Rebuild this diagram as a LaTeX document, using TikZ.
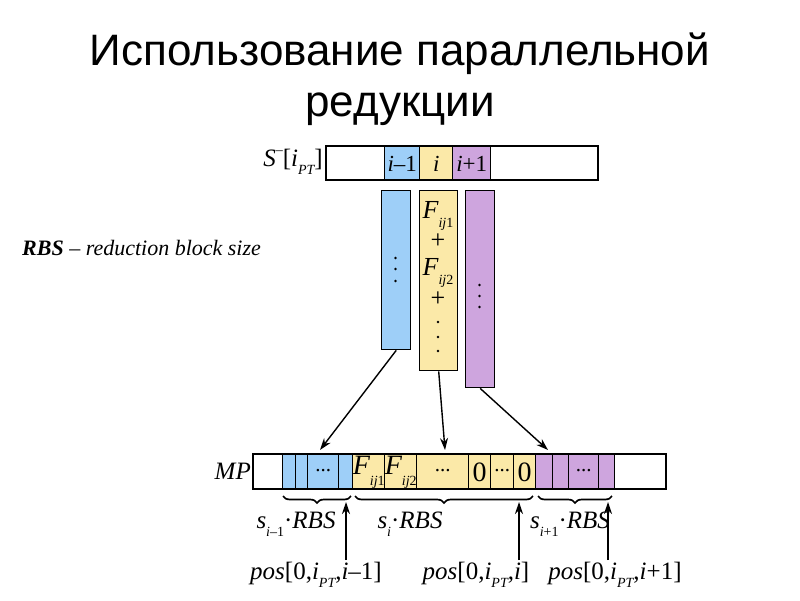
\documentclass[tikz,border=0pt]{standalone}
\usepackage{fontspec}
\setmainfont{Liberation Serif}
\newfontfamily\titlefont{Liberation Sans}
\usetikzlibrary{arrows.meta,decorations.pathreplacing}
\definecolor{cblue}{RGB}{158,207,248}
\definecolor{cyel}{RGB}{251,233,168}
\definecolor{cpur}{RGB}{206,165,222}
\newcommand\lsub[2]{\raisebox{-#1}{\fontsize{14}{14}\selectfont #2}}
\begin{document}
\begin{tikzpicture}[x=1pt,y=-1pt,
  cell/.style={draw, line width=1.4pt, inner sep=0pt, anchor=north west, font=\fontsize{23}{24}\selectfont\itshape},
  lbl/.style={inner sep=0pt, font=\fontsize{25}{26}\selectfont\itshape},
  arr/.style={line width=1.4pt, -{Stealth[length=12pt,width=8pt]}},
  brc/.style={line width=1.7pt, decorate, decoration={brace, mirror, amplitude=7pt}}
]
\useasboundingbox (0,0) rectangle (800,600);
% title
\node[font=\titlefont\fontsize{44}{51}\selectfont, align=center] (title) at (400,79) {Использование параллельной\\редукции};
% legend
\node[anchor=west, inner sep=0pt, font=\fontsize{22}{24}\selectfont\itshape] (legend) at (22,248) {\textbf{RBS} – reduction block size};
% top bar
\node[cell, minimum width=272, minimum height=34] (top) at (326,146) {};
\node[cell, fill=cblue, minimum width=35, minimum height=34] (tb) at (384,146) {i\upshape–1};
\node[cell, fill=cyel, minimum width=33, minimum height=34] (ty) at (419,146) {i};
\node[cell, fill=cpur, minimum width=38, minimum height=34] (tp) at (452,146) {i\upshape+1};
\draw[line width=1.4pt] (326,146) rectangle (598,180);
\node[lbl, anchor=east] (slbl) at (323,162) {S\raisebox{0.5em}{\fontsize{14}{14}\selectfont\upshape –}\upshape[\itshape i\lsub{0.3em}{PT}\upshape]};
% vertical bars
\node[cell, fill=cblue, minimum width=29, minimum height=159] (vb) at (381,190) {};
\node[cell, fill=cyel, minimum width=38, minimum height=180] (vy) at (419,190) {};
\node[cell, fill=cpur, minimum width=29, minimum height=197] (vp) at (465,190) {};
\foreach \y in {258,269,281} \fill (395.5,\y) circle (1.4pt);
\foreach \y in {285,296,307} \fill (479.5,\y) circle (1.4pt);
\foreach \y in {322,337,351} \fill (438,\y) circle (1.4pt);
\node[lbl, font=\fontsize{26}{26}\selectfont\itshape] (f1) at (438,216) {F\lsub{0.35em}{ij\upshape 1}};
\node[lbl, font=\fontsize{26}{26}\selectfont] (p1) at (438,241) {+};
\node[lbl, font=\fontsize{26}{26}\selectfont\itshape] (f2) at (438,273) {F\lsub{0.35em}{ij\upshape 2}};
\node[lbl, font=\fontsize{26}{26}\selectfont] (p2) at (438,299) {+};
% MP bar
\node[lbl, anchor=east] (mplbl) at (251,471) {MP};
\node[cell, minimum width=29, minimum height=35] (m0) at (253,454) {};
\node[cell, fill=cblue, minimum width=13, minimum height=35] (b1) at (282,454) {};
\node[cell, fill=cblue, minimum width=12, minimum height=35] (b2) at (295,454) {};
\node[cell, fill=cblue, minimum width=31, minimum height=35] (b3) at (307,454) {\raisebox{0.2em}{\upshape\fontsize{21}{21}\selectfont ...}};
\node[cell, fill=cblue, minimum width=14, minimum height=35] (b4) at (338,454) {};
\node[cell, fill=cyel, minimum width=32, minimum height=35] (y1) at (352,454) {\fontsize{28}{28}\selectfont F\lsub{0.4em}{ij\upshape 1}};
\node[cell, fill=cyel, minimum width=32, minimum height=35] (y2) at (384,454) {\fontsize{28}{28}\selectfont F\lsub{0.4em}{ij\upshape 2}};
\node[cell, fill=cyel, minimum width=52, minimum height=35] (y3) at (416,454) {\raisebox{0.2em}{\upshape\fontsize{21}{21}\selectfont ...}};
\node[cell, fill=cyel, minimum width=22, minimum height=35] (y4) at (468,454) {\upshape\fontsize{28}{28}\selectfont 0};
\node[cell, fill=cyel, minimum width=23, minimum height=35] (y5) at (490,454) {\raisebox{0.2em}{\upshape\fontsize{21}{21}\selectfont ...}};
\node[cell, fill=cyel, minimum width=22, minimum height=35] (y6) at (513,454) {\upshape\fontsize{28}{28}\selectfont 0};
\node[cell, fill=cpur, minimum width=17, minimum height=35] (p1c) at (535,454) {};
\node[cell, fill=cpur, minimum width=16, minimum height=35] (p2c) at (552,454) {};
\node[cell, fill=cpur, minimum width=30, minimum height=35] (p3c) at (568,454) {\raisebox{0.2em}{\upshape\fontsize{21}{21}\selectfont ...}};
\node[cell, fill=cpur, minimum width=16, minimum height=35] (p4c) at (598,454) {};
\draw[line width=1.4pt] (253,454) rectangle (666,489);
% arrows from bars
\coordinate (eb) at (320,450);
\coordinate (ey) at (445,450);
\coordinate (ep) at (548,450);
\draw[arr] (vb.south) -- (eb);
\draw[arr] (vy.south) -- (ey);
\draw[arr] (vp.south) -- (ep);
% braces
\draw[brc] (283,496) -- (351,496);
\draw[brc] (355,496) -- (533,496);
\draw[brc] (538,496) -- (612,496);
% size labels
\node[lbl] (s1) at (296,524) {s\lsub{0.3em}{i\upshape–1}\upshape·\itshape RBS};
\node[lbl] (s2) at (410,524) {s\lsub{0.3em}{i}\upshape·\itshape RBS};
\node[lbl] (s3) at (570,524) {s\lsub{0.3em}{i\upshape+1}\upshape·\itshape RBS};
% pos labels
\node[lbl] (q1) at (316,575) {pos\upshape[0,\itshape i\lsub{0.3em}{PT}\upshape,\itshape i\upshape–1]};
\node[lbl] (q2) at (476,575) {pos\upshape[0,\itshape i\lsub{0.3em}{PT}\upshape,\itshape i\upshape]};
\node[lbl] (q3) at (615,575) {pos\upshape[0,\itshape i\lsub{0.3em}{PT}\upshape,\itshape i\upshape+1]};
\coordinate (a1s) at (346,560); \coordinate (a1e) at (346,502);
\coordinate (a2s) at (519,560); \coordinate (a2e) at (519,502);
\coordinate (a3s) at (608,560); \coordinate (a3e) at (608,502);
\draw[arr] (a1s) -- (a1e);
\draw[arr] (a2s) -- (a2e);
\draw[arr] (a3s) -- (a3e);
\end{tikzpicture}
\end{document}
